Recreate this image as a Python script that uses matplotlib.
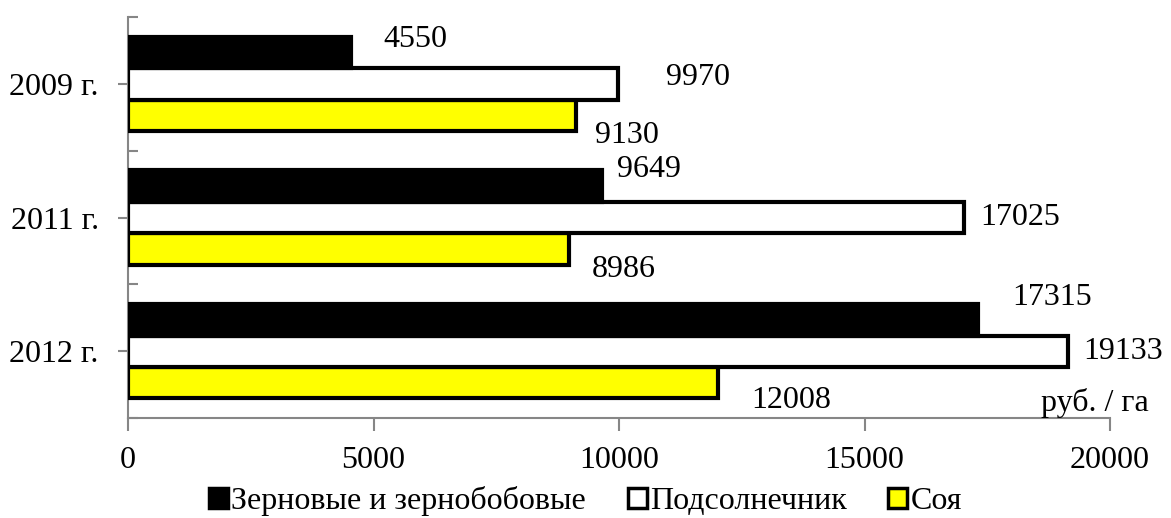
import numpy as np
import matplotlib.pyplot as plt
from matplotlib.patches import Patch
from matplotlib.ticker import FixedLocator

plt.rcParams['font.family'] = ['Liberation Serif', 'DejaVu Serif']

years = ['2009 г.', '2011 г.', '2012 г.']
series_names = ['Зерновые и зернобобовые', 'Подсолнечник', 'Соя']
grain = [4550, 9649, 17315]
sunflower = [9970, 17025, 19133]
soy = [9130, 8986, 12008]

colors = ['black', 'white', '#FFFF00']
# label offsets from the bar end, in pixels (dx, dy; dy positive = down)
label_shift = [
    [(64, -13), (47, -17), (74, -22)],
    [(80, -6), (56, 0), (56, 0)],
    [(51, 20), (54, 21), (74, 18)],
]

fig = plt.figure(figsize=(11.71, 5.18), dpi=100)
ax = fig.add_axes([0.1093, 0.193, 0.8387, 0.774])

pos = np.arange(len(years))
h = 0.235
for i, vals in enumerate([grain, sunflower, soy]):
    y = pos + (i - 1) * h
    ax.barh(y, vals, height=h, color=colors[i], edgecolor='black',
            linewidth=3, zorder=3 - i * 0.1)
    for j, v in enumerate(vals):
        dx, dy = label_shift[i][j]
        ax.annotate(str(v), xy=(v, y[j]), xytext=(dx, -dy),
                    textcoords='offset pixels', ha='center', va='center',
                    fontsize=23, annotation_clip=False)

ax.set_xlim(0, 20000)
ax.set_ylim(2.5, -0.5)
ax.set_xticks([0, 5000, 10000, 15000, 20000])
ax.set_yticks(pos)
ax.set_yticklabels(years)
ax.yaxis.set_minor_locator(FixedLocator([-0.5, 0.5, 1.5, 2.5]))

grey = '#868686'
for side in ['top', 'right']:
    ax.spines[side].set_visible(False)
for side in ['left', 'bottom']:
    ax.spines[side].set_color(grey)
    ax.spines[side].set_linewidth(1.5)

ax.tick_params(axis='both', which='major', labelsize=23, color=grey,
               width=1.5, length=7)
ax.tick_params(axis='x', which='major', length=9, pad=11)
ax.tick_params(axis='y', which='major', pad=14)
ax.tick_params(axis='y', which='minor', direction='in', length=7,
               color=grey, width=1.5)

ax.annotate('руб. / га', xy=(1, 0), xycoords='axes fraction',
            xytext=(-15, 15), textcoords='offset pixels',
            ha='center', va='center', fontsize=23, annotation_clip=False)

handles = [Patch(facecolor=c, edgecolor='black', linewidth=2.5) for c in colors]
fig.legend(handles, series_names, loc='center', bbox_to_anchor=(0.5, 0.032),
           ncol=3, frameon=False, fontsize=23, handlelength=0.6,
           handleheight=0.6, handletextpad=0.1, columnspacing=1.3,
           borderpad=0)

fig.savefig('out.png', dpi=100)
